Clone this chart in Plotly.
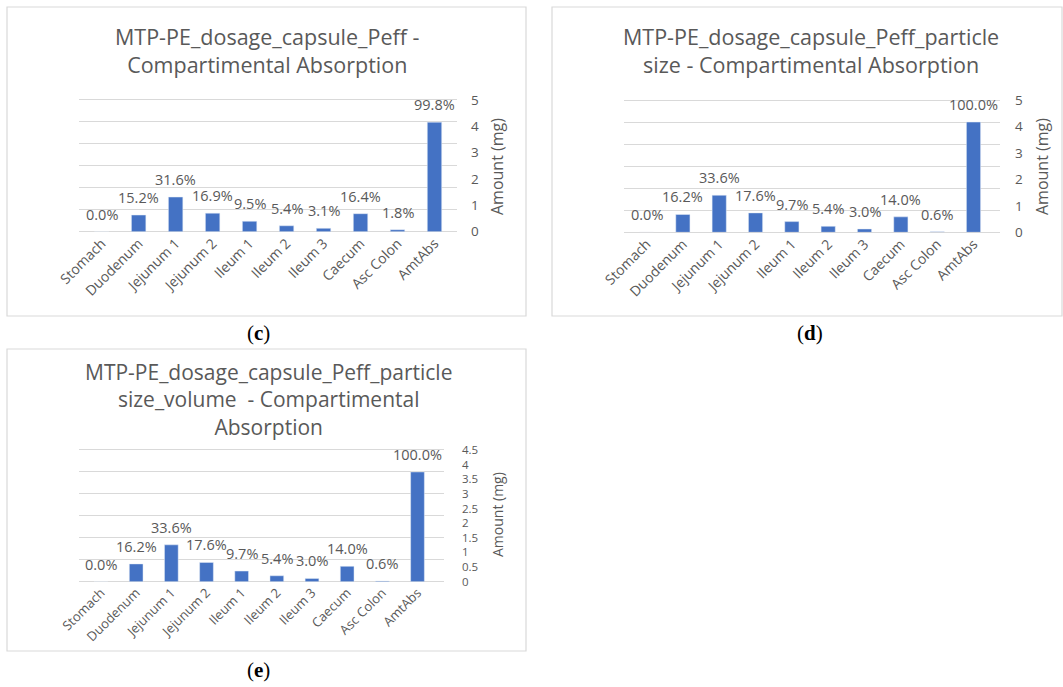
import plotly.graph_objects as go

# Compartments along the GI tract
categories = ["Stomach", "Duodenum", "Jejunum 1", "Jejunum 2", "Ileum 1",
              "Ileum 2", "Ileum 3", "Caecum", "Asc Colon", "AmtAbs"]

# Fraction of dose absorbed per compartment (%)
pct_c = [0.0, 15.2, 31.6, 16.9, 9.5, 5.4, 3.1, 16.4, 1.8, 99.8]
pct_d = [0.0, 16.2, 33.6, 17.6, 9.7, 5.4, 3.0, 14.0, 0.6, 100.0]
pct_e = [0.0, 16.2, 33.6, 17.6, 9.7, 5.4, 3.0, 14.0, 0.6, 100.0]

titles = {
    "c": "MTP-PE_dosage_capsule_Peff -<br>Compartimental Absorption",
    "d": "MTP-PE_dosage_capsule_Peff_particle<br>size - Compartimental Absorption",
    "e": "MTP-PE_dosage_capsule_Peff_particle<br>size_volume  - Compartimental<br>Absorption",
}

# Amount axis (mg) scale for each chart
amount_max = {"c": 5, "d": 5, "e": 4.5}
amount_step = {"c": 1, "d": 1, "e": 0.5}

W, H = 1063, 687
GREY = "#595959"
GRID = "#d9d9d9"
BAR = "#4472C4"
FONT = "Open Sans"
PCT_TOP = 120      # last gridline of the percentage scale
PCT_PAD = 3        # headroom so the top gridline is drawn


def fx(x):
    return x / W


def fy(y):
    return 1 - y / H


panels = [
    dict(key="c", pct=pct_c, box=(7, 7, 526, 316), plot=(79, 100, 457, 231.7),
         title_xy=(267, 50.5), title_size=21.5,
         ytitle_xy=(497, 167), ytitle_size=16, tick_size=13.5, standoff=13,
         cat_size=14, caption_xy=(258, 333)),
    dict(key="d", pct=pct_d, box=(552, 7, 1062, 316), plot=(624, 100, 1000, 232.3),
         title_xy=(811, 50.5), title_size=21.5,
         ytitle_xy=(1042, 167), ytitle_size=16, tick_size=13.5, standoff=14,
         cat_size=14, caption_xy=(810, 333)),
    dict(key="e", pct=pct_e, box=(7, 349, 526, 651), plot=(79, 450, 444, 581.7),
         title_xy=(268, 399), title_size=21,
         ytitle_xy=(497, 515), ytitle_size=14, tick_size=11.5, standoff=17,
         cat_size=13, caption_xy=(258, 670)),
]

fig = go.Figure()
layout = dict(
    width=W, height=H,
    margin=dict(l=0, r=0, t=0, b=0, autoexpand=False),
    paper_bgcolor="white", plot_bgcolor="white",
    showlegend=False,
    bargap=0.61,
    font=dict(family=FONT, color=GREY),
)
shapes = []
annotations = []

for i, p in enumerate(panels):
    n = i + 1
    k = p["key"]
    xa = "x" if n == 1 else f"x{n}"
    ya = "y" if n == 1 else f"y{n}"
    ya2 = f"y{n + 3}"
    x0, y0, x1, y1 = p["plot"]
    # extend the plotting area slightly upward to keep the top gridline visible
    y0_ext = y0 - PCT_PAD / PCT_TOP * (y1 - y0)
    amt_top = amount_max[k] * (PCT_TOP + PCT_PAD) / PCT_TOP

    fig.add_trace(go.Bar(x=categories, y=p["pct"], marker_color=BAR,
                         xaxis=xa, yaxis=ya, hoverinfo="x+y"))
    # invisible companion trace so the amount axis is rendered
    fig.add_trace(go.Scatter(x=[categories[0]], y=[0], xaxis=xa, yaxis=ya2,
                             mode="markers", marker=dict(opacity=0),
                             hoverinfo="skip"))

    layout[f"xaxis{'' if n == 1 else n}"] = dict(
        domain=[fx(x0), fx(x1)], anchor=ya, type="category",
        tickangle=-45, tickfont=dict(size=p["cat_size"], color=GREY),
        showline=False, showgrid=False, ticks="", automargin=False,
    )
    layout[f"yaxis{'' if n == 1 else n}"] = dict(
        domain=[fy(y1), fy(y0_ext)], anchor=xa, range=[0, PCT_TOP + PCT_PAD],
        tick0=0, dtick=20,
        showgrid=True, gridcolor=GRID, gridwidth=1.2,
        zeroline=True, zerolinecolor=GRID, zerolinewidth=1.2,
        showticklabels=False, ticks="", automargin=False,
    )
    layout[f"yaxis{n + 3}"] = dict(
        overlaying=ya, side="right", anchor=xa,
        range=[0, amt_top], tick0=0, dtick=amount_step[k],
        showgrid=False, zeroline=False, ticks="", automargin=False,
        tickfont=dict(size=p["tick_size"], color=GREY),
        ticklabelstandoff=p["standoff"],
    )

    # chart frame
    bx0, by0, bx1, by1 = p["box"]
    shapes.append(dict(type="rect", xref="paper", yref="paper",
                       x0=fx(bx0), x1=fx(bx1), y0=fy(by1), y1=fy(by0),
                       line=dict(color=GRID, width=1.2), fillcolor="rgba(0,0,0,0)"))

    # chart title
    tx, ty = p["title_xy"]
    annotations.append(dict(text=titles[k], xref="paper", yref="paper",
                            x=fx(tx), y=fy(ty), xanchor="center", yanchor="middle",
                            showarrow=False,
                            font=dict(size=p["title_size"], color=GREY, family=FONT)))

    # amount axis title
    ax, ay = p["ytitle_xy"]
    annotations.append(dict(text="Amount (mg)", xref="paper", yref="paper",
                            x=fx(ax), y=fy(ay), xanchor="center", yanchor="middle",
                            textangle=-90, showarrow=False,
                            font=dict(size=p["ytitle_size"], color=GREY, family=FONT)))

    # percentage labels above bars
    for c, v in zip(categories, p["pct"]):
        annotations.append(dict(text=f"{v:.1f}%", x=c, y=v, xref=xa, yref=ya,
                                xanchor="center", yanchor="bottom", yshift=6,
                                showarrow=False,
                                font=dict(size=14.5, color=GREY, family=FONT)))

    # panel caption
    cx, cy = p["caption_xy"]
    annotations.append(dict(text=f"(<b>{k}</b>)", xref="paper", yref="paper",
                            x=fx(cx), y=fy(cy), xanchor="center", yanchor="middle",
                            showarrow=False,
                            font=dict(size=21, color="black", family="Liberation Serif")))

layout["shapes"] = shapes
layout["annotations"] = annotations
fig.update_layout(**layout)

fig.write_html("out.html")
